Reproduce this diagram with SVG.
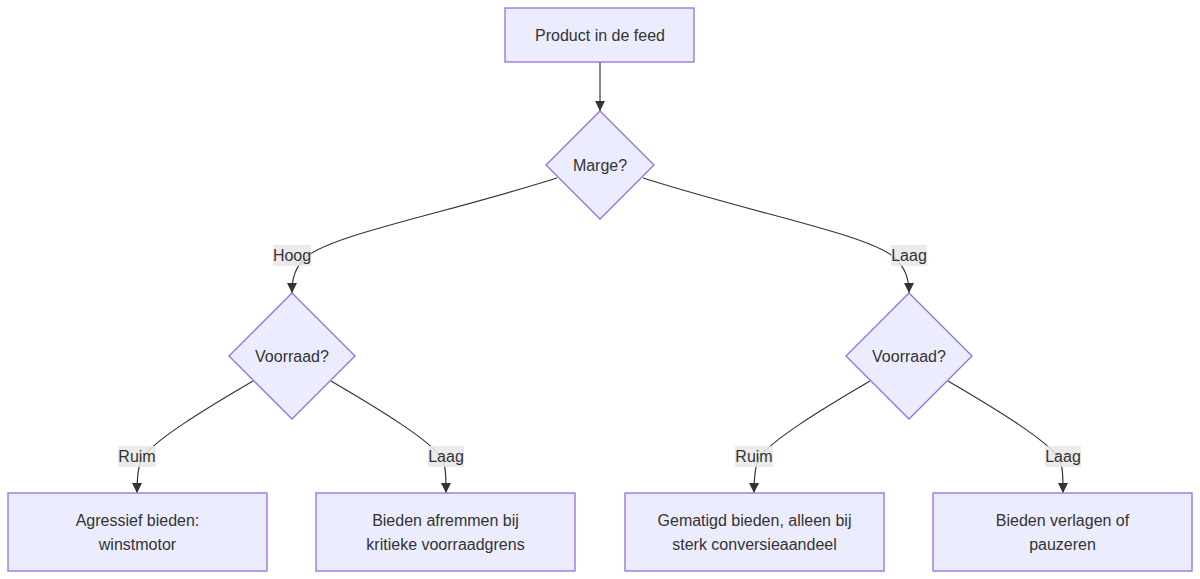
<svg xmlns="http://www.w3.org/2000/svg" width="1200" height="579" viewBox="0 0 1200 579">
<defs>
<style>
.node{fill:#ECECFF;stroke:#9370DB;stroke-width:1.3;}
.t{font-family:"Liberation Sans",Arial,sans-serif;font-size:16px;fill:#333;text-anchor:middle;dominant-baseline:central;}
.e{fill:none;stroke:#333;stroke-width:1.2;}
.lb{fill:#E8E8E8;fill-opacity:0.85;}
</style>
<marker id="arr" viewBox="0 0 10 10" refX="10" refY="5" markerWidth="10" markerHeight="10" markerUnits="userSpaceOnUse" orient="auto">
<path d="M0,0 L10,5 L0,10 z" fill="#333"/>
</marker>
</defs>
<rect width="1200" height="579" fill="#fff"/>
<g id="connectors">
<path class="e" d="M600,62 L600,111" marker-end="url(#arr)"/>
<path class="e" d="M557,178 C440,215 330,235 305,258 C295,268 292,278 292,293" marker-end="url(#arr)"/>
<path class="e" d="M643,178 C760,215 870,235 895,258 C905,268 909,278 909,293" marker-end="url(#arr)"/>
<path class="e" d="M253,381 C200,412 155,440 142,458 C138,466 137,478 137,493" marker-end="url(#arr)"/>
<path class="e" d="M331,381 C384,412 429,440 442,458 C446,466 446,478 446,493" marker-end="url(#arr)"/>
<path class="e" d="M870,381 C817,412 772,440 759,458 C755,466 754,478 754,493" marker-end="url(#arr)"/>
<path class="e" d="M948,381 C1001,412 1046,440 1059,458 C1063,466 1063,478 1063,493" marker-end="url(#arr)"/>
<g id="edge-labels">
<rect class="lb" x="273" y="245" width="38" height="21"/><text class="t" x="292" y="255.5">Hoog</text>
<rect class="lb" x="891" y="245" width="36" height="21"/><text class="t" x="909" y="255.5">Laag</text>
<rect class="lb" x="118" y="446" width="38" height="21"/><text class="t" x="137" y="456.5">Ruim</text>
<rect class="lb" x="428" y="446" width="36" height="21"/><text class="t" x="446" y="456.5">Laag</text>
<rect class="lb" x="735" y="446" width="38" height="21"/><text class="t" x="754" y="456.5">Ruim</text>
<rect class="lb" x="1045" y="446" width="36" height="21"/><text class="t" x="1063" y="456.5">Laag</text>
</g>
</g>
<g id="n-product"><rect class="node" x="505" y="8" width="189" height="54"/><text class="t" x="600" y="35">Product in de feed</text></g>
<g id="n-marge"><polygon class="node" points="600,111 654,165 600,219 546,165"/><text class="t" x="600" y="165">Marge?</text></g>
<g id="n-voorraad-l"><polygon class="node" points="292,293 355,356 292,419 229,356"/><text class="t" x="292" y="356">Voorraad?</text></g>
<g id="n-voorraad-r"><polygon class="node" points="909,293 972,356 909,419 846,356"/><text class="t" x="909" y="356">Voorraad?</text></g>
<g id="n-agressief"><rect class="node" x="8" y="493" width="259" height="78"/><text class="t" x="137.5" y="520">Agressief bieden:</text><text class="t" x="137.5" y="544">winstmotor</text></g>
<g id="n-afremmen"><rect class="node" x="316" y="493" width="259" height="78"/><text class="t" x="445.5" y="520">Bieden afremmen bij</text><text class="t" x="445.5" y="544">kritieke voorraadgrens</text></g>
<g id="n-gematigd"><rect class="node" x="625" y="493" width="259" height="78"/><text class="t" x="754.5" y="520">Gematigd bieden, alleen bij</text><text class="t" x="754.5" y="544">sterk conversieaandeel</text></g>
<g id="n-verlagen"><rect class="node" x="933" y="493" width="259" height="78"/><text class="t" x="1062.5" y="520">Bieden verlagen of</text><text class="t" x="1062.5" y="544">pauzeren</text></g>
</svg>
